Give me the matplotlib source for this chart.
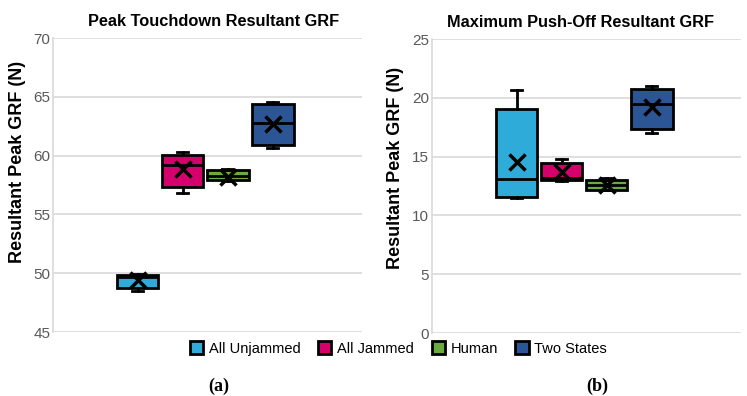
import matplotlib.pyplot as plt
from matplotlib.patches import Patch

plt.rcParams['font.family'] = ['Liberation Sans', 'DejaVu Sans']

groups = ["All Unjammed", "All Jammed", "Human", "Two States"]
colors = ["#2EABD8", "#D5006B", "#6AAA3E", "#2C5596"]

# Peak touchdown resultant GRF (N): whisker low, Q1, median, Q3, whisker high, mean
td_low = [48.5, 56.8, 57.87, 60.62]
td_q1 = [48.75, 57.3, 57.93, 60.9]
td_med = [49.7, 59.2, 58.3, 62.75]
td_q3 = [49.85, 60.05, 58.78, 64.39]
td_high = [49.9, 60.28, 58.85, 64.6]
td_mean = [49.4, 58.85, 58.2, 62.7]

# Maximum push-off resultant GRF (N)
po_low = [11.44, 12.9, 12.12, 17.02]
po_q1 = [11.55, 12.97, 12.2, 17.38]
po_med = [13.06, 13.2, 12.6, 19.48]
po_q3 = [19.08, 14.47, 13.0, 20.75]
po_high = [20.7, 14.81, 13.14, 20.98]
po_mean = [14.56, 13.68, 12.6, 19.19]

offsets = [-1.5, -0.5, 0.5, 1.5]


def draw(ax, low, q1, med, q3, high, mean, title, title_x, label_xy, ylim, ticks):
    stats = []
    for i in range(len(groups)):
        stats.append(dict(whislo=low[i], q1=q1[i], med=med[i], q3=q3[i],
                          whishi=high[i], mean=mean[i], label=groups[i]))
    bp = ax.bxp(stats, positions=offsets, widths=0.92, patch_artist=True,
                showmeans=True, showfliers=False,
                boxprops=dict(edgecolor="black", linewidth=2),
                medianprops=dict(color="black", linewidth=2),
                whiskerprops=dict(color="black", linewidth=2),
                capprops=dict(color="black", linewidth=2),
                meanprops=dict(marker="x", markeredgecolor="black",
                               markersize=11, markeredgewidth=2.5))
    for patch, c in zip(bp["boxes"], colors):
        patch.set_facecolor(c)
    for cap in bp["caps"]:
        x = cap.get_xdata()
        mid = (x[0] + x[1]) / 2
        cap.set_xdata([mid - 0.12, mid + 0.12])
    ax.set_xlim(-3.38, 3.48)
    ax.set_ylim(*ylim)
    ax.set_yticks(ticks)
    ax.set_xticks([])
    ax.yaxis.grid(True, color="#D9D9D9", linewidth=1.2)
    ax.set_axisbelow(True)
    for s in ["top", "right", "bottom"]:
        ax.spines[s].set_visible(False)
    ax.spines["left"].set_color("#D9D9D9")
    ax.spines["left"].set_linewidth(1.2)
    ax.tick_params(axis="y", length=0, labelsize=11, labelcolor="#595959", pad=2)
    ax.set_title(title, fontsize=11.8, fontweight="bold", pad=9, x=title_x)
    ax.set_ylabel("Resultant Peak GRF (N)", fontsize=13, fontweight="bold")
    ax.yaxis.set_label_coords(*label_xy)


fig = plt.figure(figsize=(7.47, 3.96), dpi=100)
ax1 = fig.add_axes([0.071, 0.1616, 0.4136, 0.7424])
ax2 = fig.add_axes([0.578, 0.159, 0.414, 0.7425])

draw(ax1, td_low, td_q1, td_med, td_q3, td_high, td_mean,
     "Peak Touchdown Resultant GRF", 0.519, (-0.087, 0.578),
     (45, 70), [45, 50, 55, 60, 65, 70])
draw(ax2, po_low, po_q1, po_med, po_q3, po_high, po_mean,
     "Maximum Push-Off Resultant GRF", 0.481, (-0.091, 0.561),
     (0, 25), [0, 5, 10, 15, 20, 25])

handles = [Patch(facecolor=c, edgecolor="black", linewidth=2) for c in colors]
fig.legend(handles, groups, loc="center", bbox_to_anchor=(0.5336, 0.12), ncol=4,
           frameon=False, fontsize=10.5, handlelength=0.9, handleheight=0.9,
           handletextpad=0.4, columnspacing=1.2)

fig.text(0.293, 0.025, "(a)", fontsize=13, fontweight="bold",
         family="Liberation Serif", ha="center", va="center")
fig.text(0.8, 0.025, "(b)", fontsize=13, fontweight="bold",
         family="Liberation Serif", ha="center", va="center")

fig.savefig("out.png", dpi=100)
